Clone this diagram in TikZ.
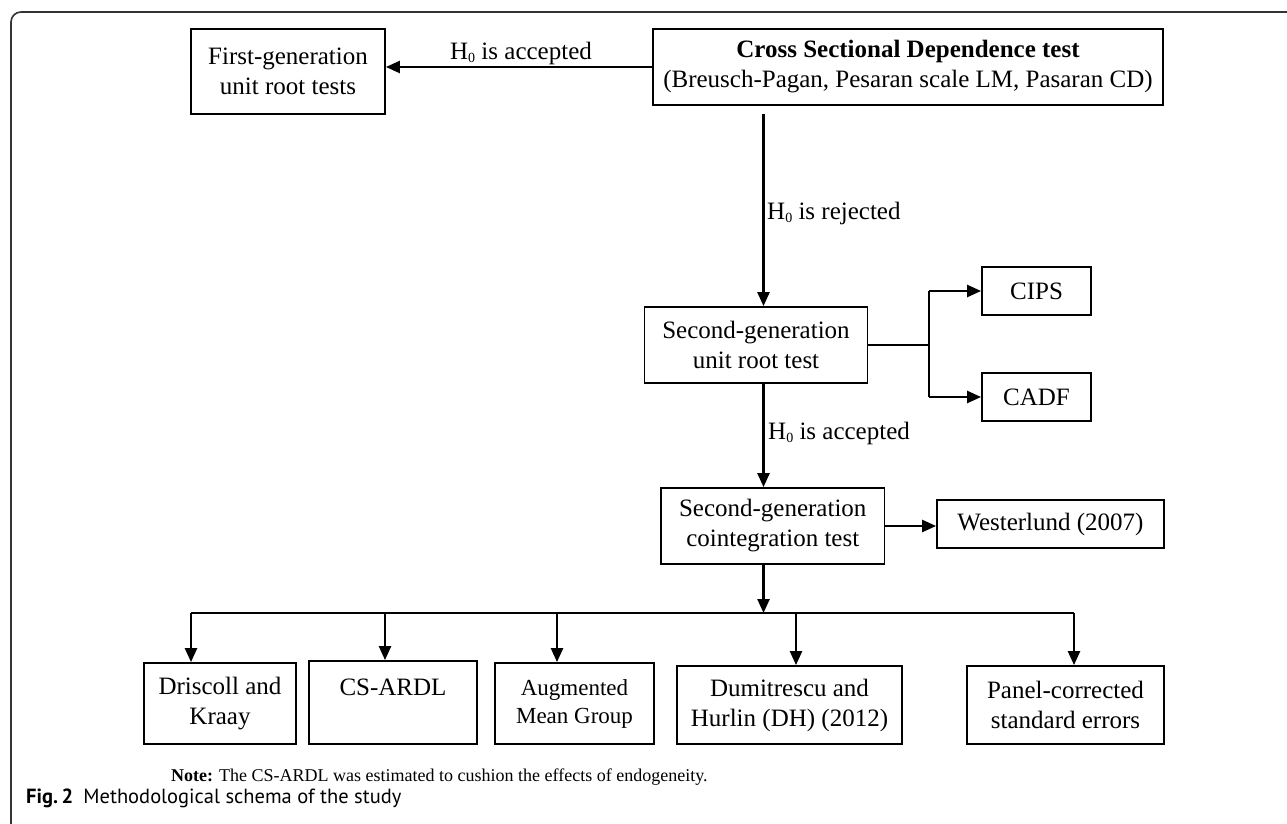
\documentclass[tikz,border=0pt]{standalone}
\usepackage{fontspec}
\setmainfont{Liberation Serif}
\newfontfamily\capfont{PT Sans}
\usetikzlibrary{arrows.meta,calc}
\newcommand{\Hnull}{H\raisebox{-0.12em}{\fontsize{14}{14}\selectfont 0}}
\begin{document}
\begin{tikzpicture}[x=1pt,y=-1pt,
  box/.style={draw=black, line width=1.8pt, inner sep=0pt, align=center, font=\fontsize{25}{30}\selectfont},
  arr/.style={line width=2.4pt, -{Triangle[length=14pt,width=12pt]}},
  ln/.style={line width=1.8pt, line join=round},
  lbl/.style={font=\fontsize{25}{30}\selectfont, inner sep=0pt}]
\useasboundingbox (0,0) rectangle (1287,824);
\draw[line width=1.6pt, draw=black!80, rounded corners=10pt] (11,824) -- (11,12) -- (1287,12);

% boxes
\node[box, minimum width=194pt, minimum height=85pt] (fg) at (288,71.5) {First-generation\\unit root tests};
\node[box, minimum width=510pt, minimum height=76pt] (csd) at (908,67) {\textbf{Cross Sectional Dependence test}\\(Breusch-Pagan, Pesaran scale LM, Pasaran CD)};
\node[box, minimum width=223pt, minimum height=76pt] (ur) at (756,345) {Second-generation\\unit root test};
\node[box, minimum width=109pt, minimum height=48pt] (cips) at (1036.5,291) {CIPS};
\node[box, minimum width=109pt, minimum height=48pt] (cadf) at (1036.5,397) {CADF};
\node[box, minimum width=223.5pt, minimum height=76pt] (co) at (772.75,526) {Second-generation\\cointegration test};
\node[box, minimum width=227pt, minimum height=48pt] (west) at (1050.5,524) {Westerlund (2007)};
\node[box, minimum width=152pt, minimum height=81pt] (dk) at (220,703.5) {Driscoll and\\Kraay};
\node[box, minimum width=168pt, minimum height=83pt] (cs) at (393,702.5) {CS-ARDL\\~};
\node[box, minimum width=159pt, minimum height=81pt, font=\fontsize{23}{28}\selectfont] (amg) at (574.5,703.5) {Augmented\\Mean Group};
\node[box, minimum width=225pt, minimum height=78pt] (dh) at (789.5,705) {Dumitrescu and\\Hurlin (DH) (2012)};
\node[box, minimum width=197pt, minimum height=78pt] (pc) at (1065.5,705) {Panel-corrected\\standard errors};

% labels
\node[lbl] (acc1) at (521,53) {\Hnull{} is accepted};
\node[lbl, anchor=west] (rej) at (767,213) {\Hnull{} is rejected};
\node[lbl, anchor=west] (acc2) at (768,433) {\Hnull{} is accepted};

% connectors
\coordinate (vx) at (763.5,0);
\coordinate (bj) at (929,0);
\draw[arr] (csd.west) -- (csd.west -| fg.east);
\draw[arr] ($(csd.south -| vx)+(0,8)$) -- (ur.north -| vx);
\draw[ln] (ur.east) -- (ur.east -| bj);
\draw[ln] (cips.west -| bj) -- (cadf.west -| bj);
\draw[arr] (cips.west -| bj) -- (cips.west);
\draw[arr] (cadf.west -| bj) -- (cadf.west);
\draw[arr] (ur.south -| vx) -- (co.north -| vx);
\draw[arr] (co.east) -- (co.east -| west.west);

\coordinate (d1) at (191,613);
\coordinate (d2) at (385,613);
\coordinate (d3) at (557,613);
\coordinate (d4) at (796,613);
\coordinate (d5) at (1074,613);
\draw[arr] (co.south -| vx) -- (d1 -| vx);
\draw[ln] (d1) -- (d5);
\draw[arr] (d1) -- (d1 |- dk.north);
\draw[arr] (d2) -- (d2 |- cs.north);
\draw[arr] (d3) -- (d3 |- amg.north);
\draw[arr] (d4) -- (d4 |- dh.north);
\draw[arr] (d5) -- (d5 |- pc.north);

% note and caption
\node[anchor=west, inner sep=0pt, font=\fontsize{18}{20}\selectfont] (note) at (171,777) {\textbf{Note:} The CS-ARDL was estimated to cushion the effects of endogeneity.};
\node[anchor=west, inner sep=0pt, font=\capfont\fontsize{20.5}{23}\selectfont] (cap) at (26,798) {\textbf{Fig.\,2}\hspace{0.5em}Methodological schema of the study};
\end{tikzpicture}
\end{document}
